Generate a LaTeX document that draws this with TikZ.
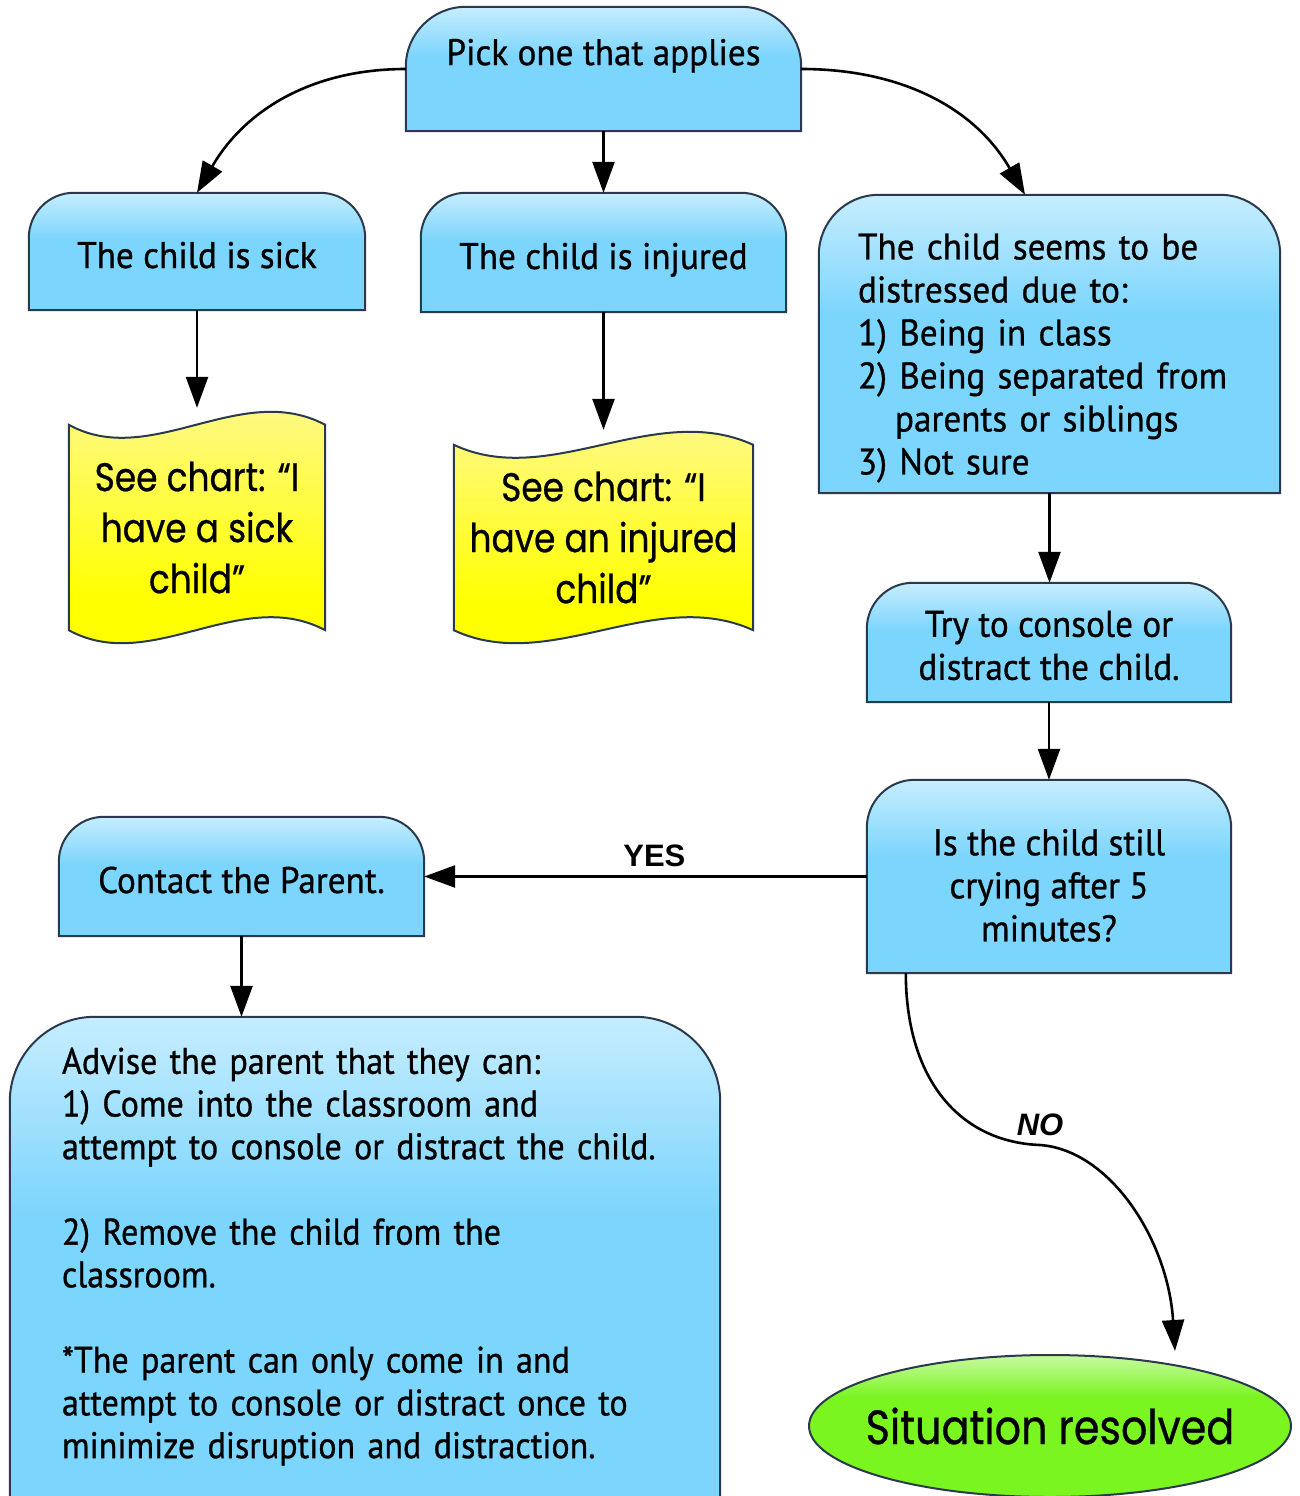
\documentclass[tikz,border=0pt]{standalone}
\usepackage{fontspec}
\newfontfamily\dinfont[FakeStretch=0.95, FakeBold=0.8]{PT Sans}
\newfontfamily\dincond[FakeStretch=0.92, FakeBold=0.8]{PT Sans}
\newfontfamily\futfont[FakeStretch=0.86, FakeBold=0.6]{Poppins}
\newfontfamily\arialfont{Liberation Sans}
\usetikzlibrary{arrows.meta,shapes.geometric,calc,positioning}
\definecolor{boxline}{RGB}{42,58,76}
\definecolor{bluetop}{RGB}{198,237,254}
\definecolor{bluebot}{RGB}{124,213,253}
\definecolor{yeltop}{RGB}{255,248,150}
\definecolor{yelbot}{RGB}{255,255,0}
\definecolor{grntop}{RGB}{200,250,160}
\definecolor{grnbot}{RGB}{122,245,32}
\pgfdeclareverticalshading{bluefade}{100bp}{color(0bp)=(bluebot); color(25bp)=(bluebot); color(55bp)=(bluebot); color(75bp)=(bluetop); color(100bp)=(bluetop)}
\pgfdeclareverticalshading{yelfade}{100bp}{color(0bp)=(yelbot); color(25bp)=(yelbot); color(38bp)=(yelbot); color(75bp)=(yeltop); color(100bp)=(yeltop)}
\pgfdeclareverticalshading{grnfade}{100bp}{color(0bp)=(grnbot); color(25bp)=(grnbot); color(60bp)=(grnbot); color(75bp)=(grntop); color(100bp)=(grntop)}
\pgfdeclarelayer{bg}
\pgfsetlayers{bg,main}
\newcommand\lift[1]{\rule{0pt}{#1}}

\begin{document}
\begin{tikzpicture}[x=1pt, y=-1pt,
	bluetext/.style={inner sep=0pt, align=center, font=\dinfont\fontsize{37}{43}\selectfont},
	doctext/.style={inner sep=0pt, align=center, font=\futfont\fontsize{40}{51}\selectfont},
	boxfill/.style={draw=boxline, line width=2pt, shading=bluefade},
	docfill/.style={draw=boxline, line width=2pt, shading=yelfade},
	link/.style={line width=2.6pt, -{Triangle[length=31pt,width=22pt]}},
	tag/.style={inner sep=0pt, font=\arialfont\bfseries\fontsize{31}{31}\selectfont}]
	\useasboundingbox (0,0) rectangle (1300,1496);

	\node[bluetext, minimum width=395pt, minimum height=124pt, text depth=34pt] (pick) at (603.5,69) {Pick one that applies};
	\node[bluetext, minimum width=336pt, minimum height=117pt, text height=33pt, text depth=0pt] (sick) at (197,251.5) {The child is sick};
	\node[bluetext, minimum width=365pt, minimum height=119pt, text height=33pt, text depth=0pt] (injured) at (603.5,252.5) {The child is injured};
	\node[bluetext, minimum width=461pt, minimum height=298pt, align=left, text width=383pt] (distress) at (1049.5,344)
		{\lift{54pt}The child seems to be\\ distressed due to:\\ 1) Being in class\\ 2) Being separated from\\ \hspace*{37pt}parents or siblings\\ 3) Not sure};
	\node[doctext, minimum width=256pt, minimum height=205pt] (sickdoc) at (197,527.5) {See chart: “I\\ have a sick\\ child”};
	\node[doctext, minimum width=299pt, minimum height=185pt] (injdoc) at (603.5,537.5) {See chart: “I\\ have an injured\\ child”};
	\node[bluetext, minimum width=364pt, minimum height=119pt] (console) at (1049,642.5) {\lift{32pt}Try to console or\\ distract the child.};
	\node[bluetext, minimum width=364pt, minimum height=193pt] (question) at (1049,876.5) {\lift{44pt}Is the child still\\ crying after 5\\ minutes?};
	\node[bluetext, minimum width=365pt, minimum height=119pt, text height=33pt, text depth=0pt] (contact) at (241.5,876.5) {Contact the Parent.};
	\node[bluetext, minimum width=710pt, minimum height=479pt, align=left, text width=606pt,
		font=\dincond\fontsize{37}{42.7}\selectfont] (advise) at (365,1256.5)
		{Advise the parent that they can:\\ 1) Come into the classroom and\\ attempt to console or distract the child.\\[42.7pt]
		 2) Remove the child from the\\ classroom.\\[42.7pt]
		 *The parent can only come in and\\ attempt to console or distract once to\\ minimize disruption and distraction.};
	\node[ellipse, shade, shading=grnfade, draw=boxline, line width=2pt, minimum width=482pt, minimum height=142pt, inner sep=0pt,
		font=\futfont\fontsize{48}{48}\selectfont] (resolved) at (1050,1426) {\makebox[0pt]{Situation resolved}};

	\begin{pgfonlayer}{bg}
	\foreach \n/\r in {pick/60, sick/45, injured/45, distress/60, console/46, question/48, contact/45}
		\shadedraw[boxfill] (\n.south west) -- ([yshift=-\r pt]\n.north west) arc[start angle=180, end angle=90, radius=\r pt]
			-- ([xshift=-\r pt]\n.north east) arc[start angle=90, end angle=0, radius=\r pt] -- (\n.south east) -- cycle;
	\shadedraw[boxfill] ([yshift=-12pt]advise.south west) -- ([yshift=-85pt]advise.north west) arc[start angle=180, end angle=90, radius=85pt]
		-- ([xshift=-85pt]advise.north east) arc[start angle=90, end angle=0, radius=85pt] -- ([yshift=-12pt]advise.south east) -- cycle;
	\foreach \n in {sickdoc, injdoc}
		\shadedraw[docfill] (\n.north west) .. controls ($(\n.north west)!.32!(\n.north east)+(0,45)$) and ($(\n.north west)!.67!(\n.north east)+(0,-45)$) .. (\n.north east)
			-- (\n.south east) .. controls ($(\n.south west)!.67!(\n.south east)+(0,-45)$) and ($(\n.south west)!.32!(\n.south east)+(0,45)$) .. (\n.south west) -- cycle;
	\end{pgfonlayer}

	\draw[link] (pick.west) to[out=180, in=60] (sick.north);
	\draw[link] (pick.east) to[out=0, in=120] ([xshift=-24.5pt]distress.north);
	\draw[link] (pick.south) -- (injured.north);
	\draw[link] (sick.south) -- ([yshift=17pt]sickdoc.north);
	\draw[link] (injured.south) -- ([yshift=15pt]injdoc.north);
	\draw[link] (distress.south) -- (distress.south |- console.north);
	\draw[link] (console.south) -- (question.north);
	\draw[link] (question.west) -- node[tag, above=8pt, pos=0.48] {YES} (contact.east);
	\draw[link] (contact.south) -- (contact.south |- advise.north);
	\draw[link] ([xshift=39pt]question.south west) .. controls (906,1080) and (960,1142) .. (1040,1145)
		node[tag, above=8pt, font=\arialfont\bfseries\itshape\fontsize{31}{31}\selectfont] {NO}
		.. controls (1110,1150) and (1168,1240) .. ([xshift=125pt,yshift=3pt]resolved.north);
\end{tikzpicture}
\end{document}
